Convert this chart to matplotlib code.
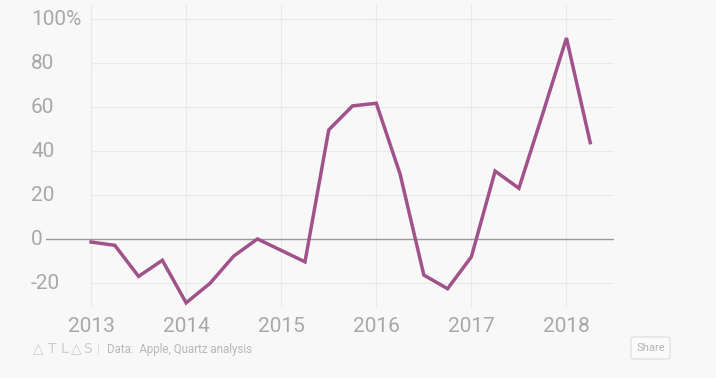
import matplotlib
matplotlib.use("Agg")
from matplotlib import pyplot as plt
from matplotlib import transforms
from matplotlib.patches import FancyBboxPatch
import numpy as np

# quarterly year-over-year change, %
quarters = np.arange(2013.0, 2018.26, 0.25)
change = [-1.2, -2.7, -16.8, -9.5, -28.8, -20.0, -7.6, 0.2, -5.0, -10.2, 49.7,
          60.6, 61.8, 29.7, -16.2, -22.4, -7.9, 31.0, 23.2, 57.0, 91.4, 43.9]
years = [2013, 2014, 2015, 2016, 2017, 2018]
yticks = [100, 80, 60, 40, 20, 0, -20]
ylabels = ["100%", "80", "60", "40", "20", "0", "-20"]

bg = "#f8f8f8"
tick_col = "#a8a8a8"
plt.rcParams['font.family'] = ['Roboto', 'DejaVu Sans']

fig = plt.figure(figsize=(7.16, 3.78), dpi=100, facecolor=bg)
ax = fig.add_axes([46/716, 1-307/378, (614-46)/716, (307-5)/378])
ax.set_facecolor(bg)
ax.set_xlim(2013 - 45/95, 2018.5)
ax.set_ylim(-30.7, 106.4)
for s in ax.spines.values():
    s.set_visible(False)

# grid
for y in yticks:
    if y != 0:
        ax.plot([2013, 2018.5], [y, y], color="#e9e9e9", lw=0.8, zorder=1)
for x in years:
    ax.axvline(x, color="#e9e9e9", lw=0.8, zorder=1)
ax.axhline(0, color="#9a9a9a", lw=1.0, zorder=2)

ax.plot(quarters, change, color="#a0528a", lw=2.5, zorder=3,
        solid_joinstyle="miter")

ax.set_xticks(years)
ax.set_xticklabels([str(y) for y in years], fontsize=15, color=tick_col)
ax.tick_params(axis="x", length=0, pad=7)
ax.set_yticks([])

trans = transforms.blended_transform_factory(fig.transFigure, ax.transData)
for y, lab in zip(yticks, ylabels):
    ax.text(31/716, y, lab, transform=trans, ha="left", va="center",
            fontsize=15, color=tick_col)

# footer
for ch, cx in zip(["△", "T", "L", "△", "S"], [38, 52, 64, 76, 87]):
    fig.text(cx/716, 1-349/378, ch, fontsize=10, color="#cccccc",
             va="center", ha="center", family=["DejaVu Sans"])
fig.text(98/716, 1-349/378, "|", fontsize=9, color="#dddddd",
         va="center", ha="center")
fig.text(107/716, 1-349/378, "Data:  Apple, Quartz analysis", fontsize=8.3,
         color="#b8b8b8", va="center", ha="left")

box = FancyBboxPatch((631/716, 1-359/378), 39/716, 22/378,
                     boxstyle="round,pad=0,rounding_size=0.004",
                     transform=fig.transFigure, facecolor="#fafafa",
                     edgecolor="#dddddd", lw=0.8)
fig.patches.append(box)
fig.text(650.5/716, 1-348/378, "Share", fontsize=8, color="#b5b5b5",
         ha="center", va="center")

fig.savefig("out.png", dpi=100, facecolor=bg)
